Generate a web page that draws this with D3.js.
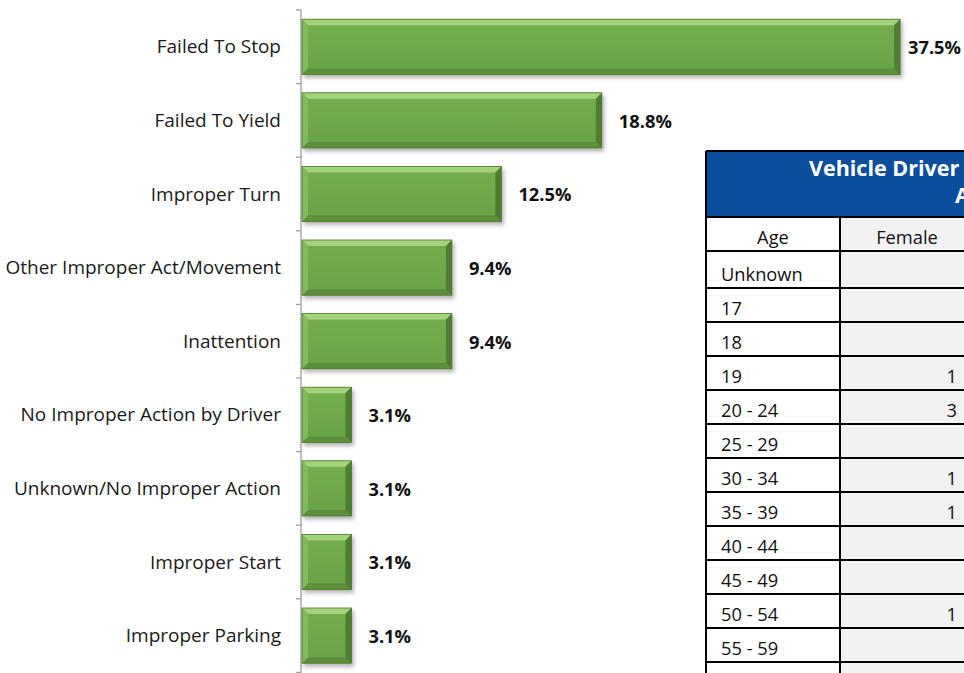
<!DOCTYPE html>
<html lang="en">
<head>
<meta charset="UTF-8">
<title>Driver Actions</title>
<script src="https://cdn.jsdelivr.net/npm/d3@7"></script>
<style>
    body { margin: 0; background: #fff; }
    svg text { font-family: "Open Sans", Lato, sans-serif; }
</style>
</head>
<body>
<svg id="mainsvg" width="964" height="673"></svg>
<script>
    // chart data
    const categories = ['Failed To Stop', 'Failed To Yield', 'Improper Turn', 'Other Improper Act/Movement',
        'Inattention', 'No Improper Action by Driver', 'Unknown/No Improper Action', 'Improper Start', 'Improper Parking'];
    const percents = [37.5, 18.8, 12.5, 9.4, 9.4, 3.1, 3.1, 3.1, 3.1];

    // table data
    const tableTitle = ['Vehicle Driver Gender and', 'Age'];
    const tableColumns = ['Age', 'Female'];
    const ageGroups = ['Unknown', '17', '18', '19', '20 - 24', '25 - 29', '30 - 34', '35 - 39', '40 - 44',
        '45 - 49', '50 - 54', '55 - 59'];
    const femaleCounts = ['', '', '', '1', '3', '', '1', '1', '', '', '1', ''];

    const svg = d3.select('#mainsvg');
    const width = +svg.attr('width');

    const defs = svg.append('defs');
    const shadow = defs.append('filter').attr('id', 'shadow')
        .attr('x', '-5%').attr('y', '-10%').attr('width', '115%').attr('height', '140%');
    shadow.append('feDropShadow').attr('dx', 2).attr('dy', 3).attr('stdDeviation', 2.2)
        .attr('flood-color', '#000').attr('flood-opacity', 0.3);
    const face = defs.append('linearGradient').attr('id', 'face')
        .attr('x1', 0).attr('y1', 0).attr('x2', 0).attr('y2', 1);
    face.append('stop').attr('offset', '0%').attr('stop-color', '#75ae4e');
    face.append('stop').attr('offset', '100%').attr('stop-color', '#69a345');

    //Scales
    const yScale = d3.scaleBand()
        .domain(categories)
        .range([10, 672.4])
        .paddingInner(0.25)
        .paddingOuter(0.125);
    const step = yScale.step();
    const xScale = d3.scaleLinear()
        .domain([0, 40])
        .range([302, 940]);

    //Axis line + ticks between categories
    const axis = svg.append('g').attr('stroke', '#a0a0a0').attr('stroke-width', 1.3);
    axis.append('line')
        .attr('x1', 301).attr('x2', 301)
        .attr('y1', yScale.range()[0]).attr('y2', 680);
    axis.selectAll('.tick').data(d3.range(categories.length + 1))
        .join('line')
        .attr('x1', 296).attr('x2', 301)
        .attr('y1', i => yScale.range()[0] + i * step)
        .attr('y2', i => yScale.range()[0] + i * step);

    //Category labels
    svg.append('g').selectAll('text').data(categories)
        .join('text')
        .attr('x', 281)
        .attr('y', d => yScale(d) - step * 0.125 + step / 2)
        .attr('dy', '0.35em')
        .attr('text-anchor', 'end')
        .attr('font-size', 19)
        .attr('fill', '#1a1a1a')
        .text(d => d);

    //Bevelled bars
    const bev = 6;
    const bars = svg.append('g').selectAll('g').data(categories)
        .join('g')
        .attr('filter', 'url(#shadow)');
    const geom = (d, i) => {
        const x0 = xScale(0), x1 = xScale(percents[i]);
        const y0 = yScale(d), y1 = y0 + yScale.bandwidth();
        return {x0, x1, y0, y1};
    };
    bars.append('rect')
        .attr('x', (d, i) => geom(d, i).x0)
        .attr('y', (d, i) => geom(d, i).y0)
        .attr('width', (d, i) => geom(d, i).x1 - geom(d, i).x0)
        .attr('height', yScale.bandwidth())
        .attr('fill', 'url(#face)');
    const sides = [
        {fill: '#a3d47c', pts: g => [[g.x0, g.y0], [g.x1, g.y0], [g.x1 - bev, g.y0 + bev], [g.x0 + bev, g.y0 + bev]]},
        {fill: '#5b8e3a', pts: g => [[g.x0, g.y1], [g.x1, g.y1], [g.x1 - bev, g.y1 - bev], [g.x0 + bev, g.y1 - bev]]},
        {fill: '#82b95d', pts: g => [[g.x0, g.y0], [g.x0 + bev, g.y0 + bev], [g.x0 + bev, g.y1 - bev], [g.x0, g.y1]]},
        {fill: '#4f7d31', pts: g => [[g.x1, g.y0], [g.x1 - bev, g.y0 + bev], [g.x1 - bev, g.y1 - bev], [g.x1, g.y1]]}
    ];
    sides.forEach(s => {
        bars.append('polygon')
            .attr('points', (d, i) => s.pts(geom(d, i)).map(p => p.join(',')).join(' '))
            .attr('fill', s.fill);
    });
    bars.append('rect')
        .attr('x', (d, i) => geom(d, i).x0)
        .attr('y', (d, i) => geom(d, i).y0)
        .attr('width', (d, i) => geom(d, i).x1 - geom(d, i).x0)
        .attr('height', yScale.bandwidth())
        .attr('fill', 'none')
        .attr('stroke', '#4c7a30')
        .attr('stroke-width', 0.8);

    //Value labels
    svg.append('g').selectAll('text').data(categories)
        .join('text')
        .attr('x', (d, i) => Math.min(xScale(percents[i]) + 17, width - 56))
        .attr('y', d => yScale(d) + yScale.bandwidth() / 2 + 1)
        .attr('dy', '0.35em')
        .attr('font-size', 18.3)
        .attr('font-weight', 'bold')
        .attr('fill', '#111')
        .text((d, i) => d3.format('.1f')(percents[i]) + '%');

    //Table
    const tX = 706, tY = 151, headH = 66, rowH = 34, colW = 134;
    const table = svg.append('g');
    table.append('rect')
        .attr('x', tX).attr('y', tY)
        .attr('width', colW * 4).attr('height', headH)
        .attr('fill', '#0b4f9c');
    table.selectAll('.title').data(tableTitle)
        .join('text')
        .attr('x', (d, i) => i === 0 ? 809 : 955)
        .attr('y', (d, i) => tY + 25 + i * 27)
        .attr('fill', '#fff')
        .attr('font-weight', 'bold')
        .attr('font-size', 21.5)
        .text(d => d);

    const rows = [tableColumns].concat(ageGroups.map((a, i) => [a, femaleCounts[i]]));
    // the "Unknown" row is a little taller than the others
    const rowY = i => tY + headH + i * rowH + (i >= 2 ? 3 : 0);
    tableColumns.forEach((c, j) => {
        table.append('rect')
            .attr('x', tX + j * colW).attr('y', rowY(0))
            .attr('width', colW).attr('height', 700 - rowY(0))
            .attr('fill', j === 0 ? '#fff' : '#f2f2f2');
    });
    const rowG = table.selectAll('.row').data(rows)
        .join('g');
    rowG.append('text')
        .attr('x', (d, i) => i === 0 ? tX + colW / 2 : tX + 15)
        .attr('y', (d, i) => rowY(i + 1) - 7)
        .attr('text-anchor', (d, i) => i === 0 ? 'middle' : 'start')
        .attr('font-size', 18.3)
        .attr('fill', '#111')
        .text(d => d[0]);
    rowG.append('text')
        .attr('x', (d, i) => i === 0 ? tX + colW * 1.5 : tX + colW * 2 - 17)
        .attr('y', (d, i) => rowY(i + 1) - 7)
        .attr('text-anchor', (d, i) => i === 0 ? 'middle' : 'end')
        .attr('font-size', 18.3)
        .attr('fill', '#111')
        .text(d => d[1]);

    //Grid lines
    const grid = table.append('g').attr('stroke', '#000').attr('stroke-width', 2);
    grid.selectAll('.h').data(d3.range(rows.length + 1))
        .join('line')
        .attr('x1', tX).attr('x2', tX + colW * 4)
        .attr('y1', i => rowY(i)).attr('y2', i => rowY(i));
    grid.append('line').attr('x1', tX).attr('x2', tX + colW * 4).attr('y1', tY).attr('y2', tY);
    grid.selectAll('.v').data(d3.range(3))
        .join('line')
        .attr('x1', j => tX + j * colW).attr('x2', j => tX + j * colW)
        .attr('y1', j => j === 0 ? tY : rowY(0)).attr('y2', 700);
</script>
</body>
</html>
